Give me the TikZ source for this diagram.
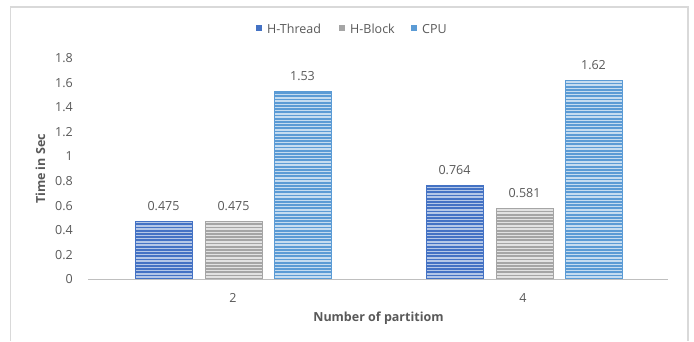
\documentclass[tikz,border=0pt]{standalone}
\usepackage{fontspec}
\setmainfont{Open Sans}

\definecolor{threadblue}{HTML}{4472C4}
\definecolor{threadlight}{HTML}{B4C7E7}
\definecolor{blockgray}{HTML}{A5A5A5}
\definecolor{blocklight}{HTML}{E2E2E2}
\definecolor{cpublue}{HTML}{5B9BD5}
\definecolor{cpulight}{HTML}{C5DCF0}
\definecolor{txtgray}{HTML}{595959}
\definecolor{axisgray}{HTML}{BFBFBF}
\definecolor{framegray}{HTML}{D9D9D9}

\tikzset{
  lbl/.style={inner sep=0pt, text=txtgray, font=\fontsize{12.5}{15}\selectfont},
  boldlbl/.style={lbl, font=\fontsize{12.5}{15}\selectfont\bfseries},
  keybox/.style={minimum size=6pt, inner sep=0pt}
}

\begin{document}
\begin{tikzpicture}[x=1pt,y=1pt]
		\useasboundingbox (0,0) rectangle (694,341);
		\fill[white] (0,0) rectangle (694,341);
		% outer frame of the chart
		\draw[framegray,line width=1.5pt] (10.5,0) -- (10.5,334) -- (688,334) -- (688,0);
		% bars: left edge / value / colour / light colour / name
		\foreach \x/\v/\c/\l/\n in {135/0.475/threadblue/threadlight/ta,
				205/0.475/blockgray/blocklight/ba,
				274/1.53/cpublue/cpulight/ca,
				426/0.764/threadblue/threadlight/tb,
				496/0.581/blockgray/blocklight/bb,
				565/1.62/cpublue/cpulight/cb}{
			\pgfmathsetmacro{\h}{61.5+\v*123}
			\begin{scope}
				\clip (\x,61.5) rectangle (\x+57,\h);
				\fill[\l] (\x,61.5) rectangle (\x+57,\h);
				\foreach \s in {0,3.2,...,200}
					\fill[\c] (\x,61.5+\s) rectangle (\x+57,61.5+\s+1.7);
			\end{scope}
			\draw[\c,line width=0.6pt] (\x,61.5) rectangle (\x+57,\h);
			\node[lbl] (v\n) at (\x+28.5,\h+15) {\v};
		}
		% value axis
		\draw[axisgray,line width=1.5pt] (88,61.5) -- (668,61.5);
		\foreach \t in {0,0.2,0.4,0.6,0.8,1,1.2,1.4,1.6,1.8}{
			\node[lbl,anchor=east] (y\t) at (73,61.5+\t*123) {\t};
		}
		\node[lbl] (c2) at (233,43) {2};
		\node[lbl] (c4) at (523,43) {4};
		\node[boldlbl] (xtitle) at (378.5,23) {Number of partitiom};
		\node[boldlbl,rotate=90] (ytitle) at (40.5,172) {Time in Sec};
		% legend
		\node[keybox,fill=threadblue] (k1) at (259,313) {};
		\node[lbl,anchor=west] (l1) at (267,312) {H-Thread};
		\node[keybox,fill=blockgray] (k2) at (342,313) {};
		\node[lbl,anchor=west] (l2) at (350,312) {H-Block};
		\node[keybox,fill=cpublue] (k3) at (414,313) {};
		\node[lbl,anchor=west] (l3) at (422,312) {CPU};
	\end{tikzpicture}
\end{document}
